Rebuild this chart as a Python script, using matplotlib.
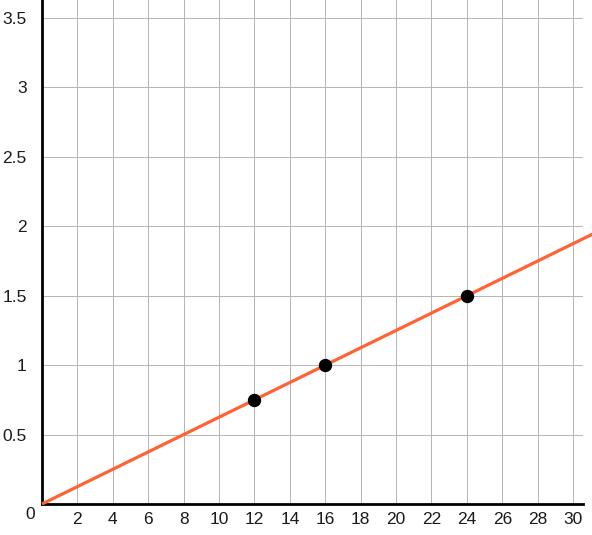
import numpy as np
import matplotlib
matplotlib.use("Agg")
import matplotlib.pyplot as plt

plt.rcParams['font.family'] = ['Liberation Sans', 'DejaVu Sans']

# data
line_x = [0, 31.1]
slope = 1 / 16
pts_x = [12, 16, 24]
pts_y = [0.75, 1.0, 1.5]
x_ticks = list(range(2, 31, 2))
y_ticks = [0.5, 1, 1.5, 2, 2.5, 3, 3.5]
y_labels = ["0.5", "1", "1.5", "2", "2.5", "3", "3.5"]

fig = plt.figure(figsize=(5.92, 5.35), dpi=100)
ax = fig.add_axes([42 / 592, 31 / 535, 541 / 592, 504 / 535])

ax.set_xlim(0, 30.56)
ax.set_ylim(0, 3.63)

ax.plot(line_x, [v * slope for v in line_x], color="#ff6333", lw=2.3,
        clip_on=False, zorder=3, solid_capstyle="butt")
ax.plot(pts_x, pts_y, "o", color="black", ms=8.6, zorder=4)

ax.set_xticks(x_ticks)
ax.set_yticks(y_ticks)
ax.set_yticklabels(y_labels)
ax.grid(color="#b4b4b4", lw=0.7)
ax.set_axisbelow(True)
ax.tick_params(length=0, labelsize=12.5, pad=6, colors="#1a1a1a")
ax.tick_params(axis="y", pad=11)

for s in ["top", "right"]:
    ax.spines[s].set_visible(False)
ax.spines["left"].set_linewidth(2)
ax.spines["bottom"].set_linewidth(2)

# shared origin label, drawn a bit lower than the y labels
ax.text(-0.013, -0.006, "0", transform=ax.transAxes, ha="right", va="top",
        fontsize=12.5, color="#1a1a1a")

fig.savefig("out.png", dpi=100)
